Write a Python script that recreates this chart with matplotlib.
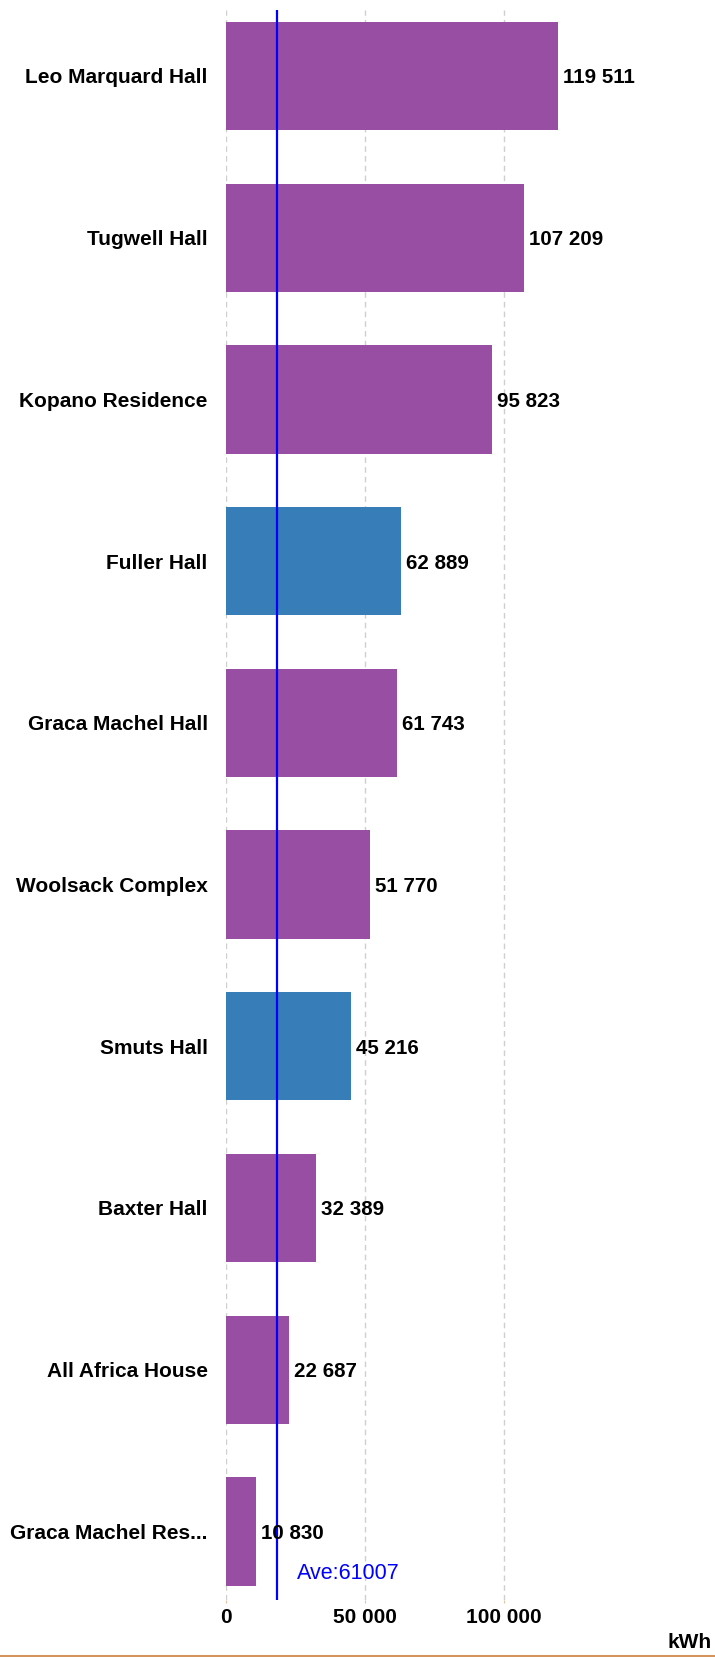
import matplotlib
matplotlib.use("Agg")
import matplotlib.pyplot as plt
from matplotlib.lines import Line2D

# ---- data ----
categories = ["Leo Marquard Hall", "Tugwell Hall", "Kopano Residence", "Fuller Hall",
              "Graca Machel Hall", "Woolsack Complex", "Smuts Hall", "Baxter Hall",
              "All Africa House", "Graca Machel Res..."]
values = [119511, 107209, 95823, 62889, 61743, 51770, 45216, 32389, 22687, 10830]
groups = ["purple", "purple", "purple", "blue", "purple", "purple", "blue", "purple", "purple", "purple"]
avg_line_value = 18450          # where the average line is drawn in the picture
avg_label_value = 61007         # value printed in the label
x_ticks = [0, 50000, 100000]
unit_label = "kWh"

palette = {"purple": "#984EA3", "blue": "#377EB8"}

W, H, DPI = 715, 1657, 100
fig = plt.figure(figsize=(W / DPI, H / DPI), dpi=DPI)

ax_left = 225.7 / W
ax_top_px, ax_bot_px = 10, 1600
xmax = 140000
px_per_unit = 139 / 50000
ax_w = xmax * px_per_unit / W
ax = fig.add_axes([ax_left, 1 - ax_bot_px / H, ax_w, (ax_bot_px - ax_top_px) / H])

FONT = "Liberation Sans"
ypos = list(range(len(categories)))
ax.barh(ypos, values, height=0.67, color=[palette[g] for g in groups], zorder=2)

for y, v in zip(ypos, values):
    ax.annotate(f"{v:,}".replace(",", " "), xy=(v, y), xytext=(3.6, 0),
                textcoords="offset points", va="center_baseline", ha="left",
                fontsize=14.8, fontweight="bold", family=FONT, color="black", zorder=4)

ax.axvline(avg_line_value, color="#0000FF", lw=1.6, zorder=3)
ax.annotate(f"Ave:{avg_label_value}", xy=(avg_line_value, 9.245), xytext=(14.5, 0),
            textcoords="offset points", va="center_baseline", ha="left",
            fontsize=15.5, family=FONT, color="#0000FF")

ax.set_xlim(0, xmax)
ax.set_ylim(9.424, -0.408)
ax.set_yticks(ypos)
ax.set_yticklabels(categories, fontsize=15, fontweight="bold", family=FONT,
                   va="center_baseline")
ax.tick_params(axis="y", length=0, pad=13)
ax.set_xticks(x_ticks)
ax.set_xticklabels([f"{t:,}".replace(",", " ") for t in x_ticks],
                   fontsize=15, fontweight="bold", family=FONT)
ax.tick_params(axis="x", length=2, color="#E8C39E", pad=4)
ax.grid(axis="x", color="#CFCFCF", linestyle=(0, (4, 3)), lw=1, zorder=0)
ax.set_axisbelow(True)
for s in ax.spines.values():
    s.set_visible(False)

fig.text(712 / W, 1 - 1643 / H, unit_label, ha="right", va="center",
         fontsize=15, fontweight="bold", family=FONT)
fig.add_artist(Line2D([0, 1], [1 - 1656 / H, 1 - 1656 / H], transform=fig.transFigure,
                      color="#D4935A", lw=1.5))

fig.savefig("out.png", dpi=DPI)
